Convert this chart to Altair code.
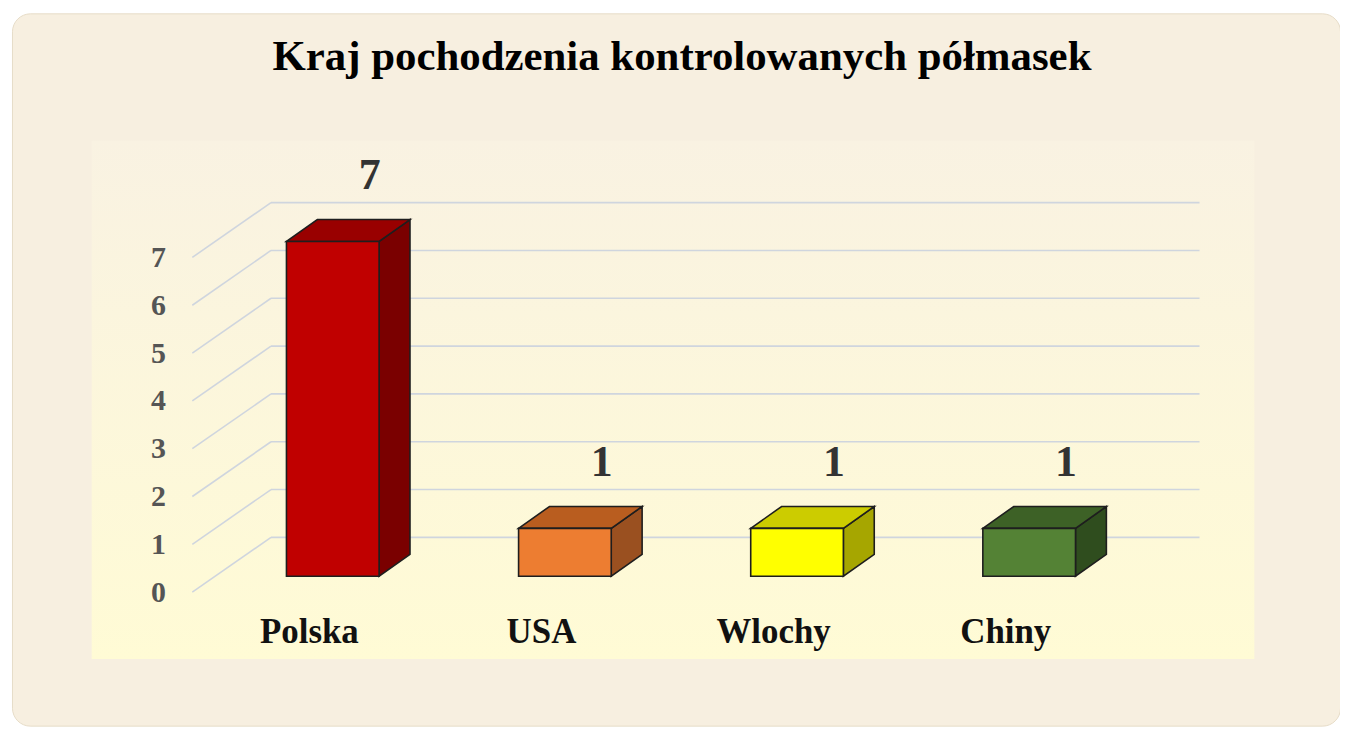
import altair as alt
import pandas as pd

# ---- data ----
categories = ["Polska", "USA", "Wlochy", "Chiny"]
values = [7, 1, 1, 1]
y_ticks = [0, 1, 2, 3, 4, 5, 6, 7]
front_colors = ["#c00000", "#ed7d31", "#ffff00", "#548235"]
top_colors = ["#990000", "#b95d1f", "#cccc00", "#3d6126"]
side_colors = ["#7a0000", "#9a5020", "#a6a600", "#2f4d1e"]
title_text = "Kraj pochodzenia kontrolowanych półmasek"

# ---- layout / style constants (pixels -> data units) ----
VIEW_W, VIEW_H = 1333, 715
PX_PER_CAT, PX_PER_UNIT = 233.0, 48.0
X0_PX, Y0_PX = 334.0 - 12, 577.0 - 12          # position of index 0 / value 0 inside view
x_dom = [-X0_PX / PX_PER_CAT, (VIEW_W - X0_PX) / PX_PER_CAT]
y_dom = [-(VIEW_H - Y0_PX) / PX_PER_UNIT, Y0_PX / PX_PER_UNIT]

HALF_W = 46.5 / PX_PER_CAT      # half bar width
DX = 31 / PX_PER_CAT            # depth, horizontal
DZ = 22 / PX_PER_UNIT           # depth, vertical
WALL_DZ = 39 / PX_PER_UNIT      # back wall depth
WALL_X_FRONT = -141 / PX_PER_CAT
WALL_X_BACK = -62 / PX_PER_CAT
WALL_X_END = 870 / PX_PER_CAT
FRONT_DROP = 16 / PX_PER_UNIT

SERIF = "Liberation Serif"
EDGE = "#1e1e1e"

xs = alt.Scale(domain=x_dom, nice=False, zero=False)
ys = alt.Scale(domain=y_dom, nice=False, zero=False)

# ---- tables ----
front = pd.DataFrame({
    "cat": categories,
    "i": list(range(len(categories))),
    "v": values,
})
front["L"] = front["i"] - HALF_W
front["R"] = front["i"] + HALF_W
front["z"] = 0.0

top_rows, side_rows = [], []
for c, i, v in zip(categories, range(len(categories)), values):
    L, R = i - HALF_W, i + HALF_W
    top_rows += [
        {"cat": c, "x": L, "y": v, "y2": v},
        {"cat": c, "x": L + DX, "y": v + DZ, "y2": v},
        {"cat": c, "x": R, "y": v + DZ, "y2": v},
        {"cat": c, "x": R + DX, "y": v + DZ, "y2": v + DZ},
    ]
    side_rows += [
        {"cat": c, "x": R, "y": v, "y2": 0.0},
        {"cat": c, "x": R + DX, "y": v + DZ, "y2": DZ},
    ]
top = pd.DataFrame(top_rows)
side = pd.DataFrame(side_rows)

grid = pd.DataFrame({"t": y_ticks})
grid["yb"] = grid["t"] + WALL_DZ
grid["yf"] = grid["t"] - FRONT_DROP
grid["xf"] = WALL_X_FRONT
grid["xb"] = WALL_X_BACK
grid["xe"] = WALL_X_END

panel = pd.DataFrame({
    "x": [(92 - 334) / PX_PER_CAT], "x2": [(1259 - 334) / PX_PER_CAT],
    "y": [(577 - 660) / PX_PER_UNIT], "y2": [(577 - 140) / PX_PER_UNIT],
})

label_expr = "[" + ",".join("'%s'" % c for c in categories) + "][datum.value]"

# ---- layers ----
panel_layer = alt.Chart(panel).mark_rect(
    fill=alt.Gradient(
        gradient="linear", x1=0, y1=0, x2=0, y2=1,
        stops=[alt.GradientStop(offset=0, color="#f9f2e2"),
               alt.GradientStop(offset=1, color="#fffbd5")],
    )
).encode(
    x=alt.X("x:Q", scale=xs,
            axis=alt.Axis(values=list(range(len(categories))), labelExpr=label_expr,
                          title=None, grid=False, domain=False, ticks=False,
                          labelFont=SERIF, labelFontWeight="bold", labelFontSize=35,
                          labelColor="#111111", labelBaseline="alphabetic",
                          labelPadding=0, labelOffset=-24, offset=-83, zindex=2,
                          labelFlush=False, labelOverlap=False)),
    x2="x2:Q",
    y=alt.Y("y:Q", scale=ys,
            axis=alt.Axis(values=y_ticks, title=None, grid=False, domain=False, ticks=False,
                          labelFont=SERIF, labelFontWeight="bold", labelFontSize=30,
                          labelColor="#555555", labelPadding=4, labelOffset=16,
                          offset=-158, zindex=2, labelFlush=False, labelOverlap=False)),
    y2="y2:Q",
)

grid_layer = alt.Chart(grid).mark_rule(color="#cfd5de", strokeWidth=1.6).encode(
    x=alt.X("xb:Q", scale=xs), x2="xe:Q",
    y=alt.Y("yb:Q", scale=ys),
)
diag_layer = alt.Chart(grid).mark_rule(color="#cfd5de", strokeWidth=1.6).encode(
    x=alt.X("xf:Q", scale=xs), x2="xb:Q",
    y=alt.Y("yf:Q", scale=ys), y2="yb:Q",
)

side_layer = alt.Chart(side).mark_area(stroke=EDGE, strokeWidth=1.6, opacity=1).encode(
    x=alt.X("x:Q", scale=xs),
    y=alt.Y("y:Q", scale=ys), y2="y2:Q",
    color=alt.Color("cat:N", scale=alt.Scale(domain=categories, range=side_colors), legend=None),
)
top_layer = alt.Chart(top).mark_area(stroke=EDGE, strokeWidth=1.6, opacity=1).encode(
    x=alt.X("x:Q", scale=xs),
    y=alt.Y("y:Q", scale=ys), y2="y2:Q",
    color=alt.Color("cat:N", scale=alt.Scale(domain=categories, range=top_colors), legend=None),
)
front_layer = alt.Chart(front).mark_rect(stroke=EDGE, strokeWidth=1.6).encode(
    x=alt.X("L:Q", scale=xs), x2="R:Q",
    y=alt.Y("z:Q", scale=ys), y2="v:Q",
    fill=alt.Fill("cat:N", scale=alt.Scale(domain=categories, range=front_colors), legend=None),
)
value_layer = alt.Chart(front).mark_text(
    font=SERIF, fontWeight="bold", fontSize=44, color="#333333",
    dx=37, dy=-66, baseline="middle", align="center",
).encode(
    x=alt.X("i:Q", scale=xs),
    y=alt.Y("v:Q", scale=ys),
    text="v:Q",
)

chart = alt.layer(
    panel_layer, grid_layer, diag_layer, side_layer, top_layer, front_layer, value_layer
).resolve_scale(color="independent", fill="independent").properties(
    width=VIEW_W, height=VIEW_H,
    title=alt.TitleParams(title_text, font=SERIF, fontWeight="bold", fontSize=43,
                          color="#000000", anchor="middle", baseline="alphabetic",
                          frame="group", offset=-60, dy=40, dx=6),
    autosize=alt.AutoSizeParams(type="none"),
    padding={"left": 4, "top": 4, "right": 0, "bottom": 0},
).configure_view(
    fill="#f7efe0", stroke="#e6dcc8", strokeWidth=1, cornerRadius=18,
)

chart.save("out.html", embed_options={"renderer": "svg", "actions": False})
